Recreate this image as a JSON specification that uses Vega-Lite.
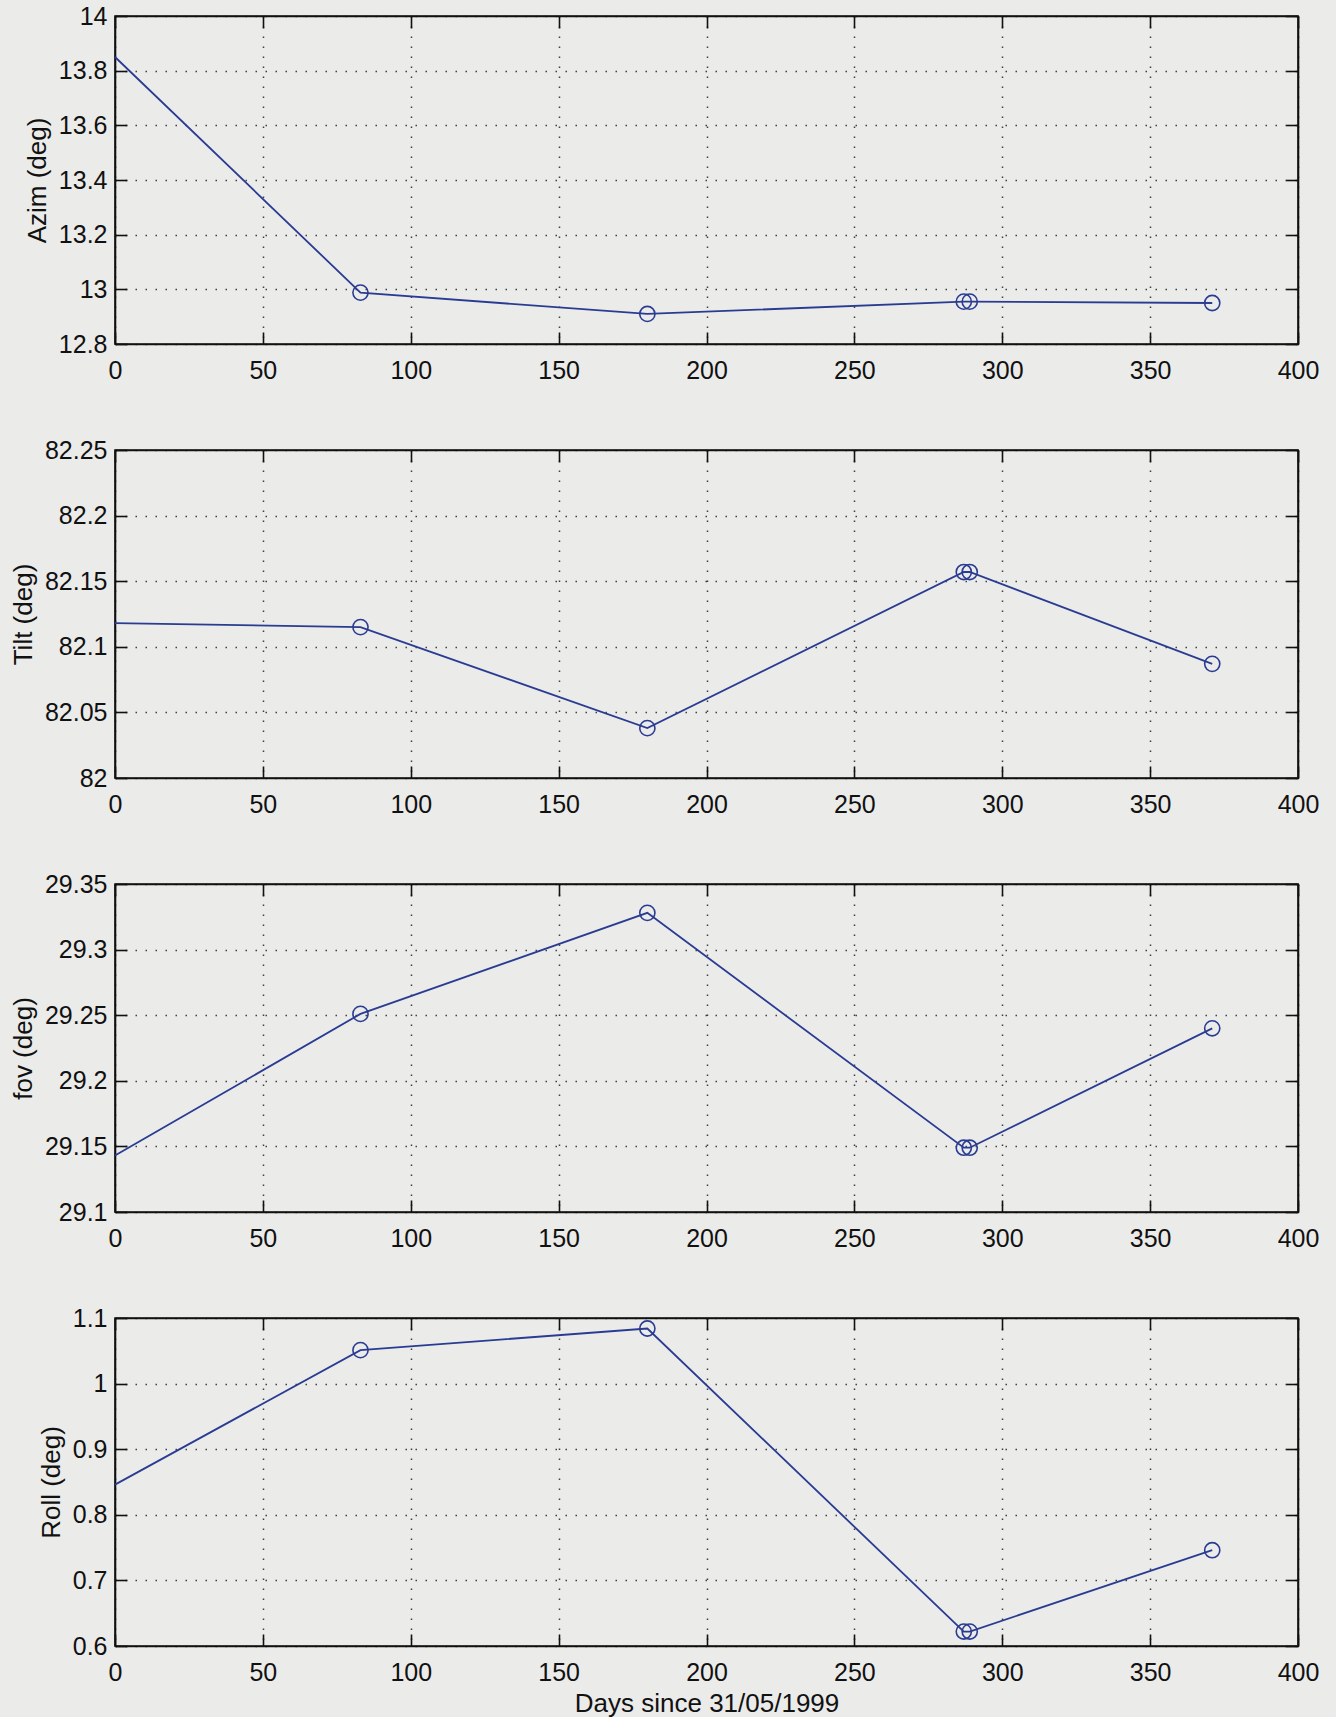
{
  "$schema": "https://vega.github.io/schema/vega-lite/v6.json",
  "background": "#ebebea",
  "padding": {"left": 9, "top": 3, "right": 30, "bottom": 0},
  "bounds": "flush",
  "spacing": 106,
  "datasets": {
    "cal": [
      {"day": 0, "azim": 13.85, "tilt": 82.118, "fov": 29.143, "roll": 0.846},
      {"day": 83, "azim": 12.988, "tilt": 82.115, "fov": 29.251, "roll": 1.051},
      {"day": 180, "azim": 12.91, "tilt": 82.038, "fov": 29.328, "roll": 1.084},
      {"day": 287, "azim": 12.955, "tilt": 82.157, "fov": 29.149, "roll": 0.622},
      {"day": 289, "azim": 12.955, "tilt": 82.157, "fov": 29.149, "roll": 0.622},
      {"day": 371, "azim": 12.95, "tilt": 82.087, "fov": 29.24, "roll": 0.746}
    ]
  },
  "data": {"name": "cal"},
  "vconcat": [
    {
      "width": 1183, "height": 328,
      "layer": [
        {
          "mark": {"type": "line", "color": "#2a3c92", "strokeWidth": 1.8},
          "encoding": {
            "x": {"field": "day", "type": "quantitative", "scale": {"domain": [0, 400], "nice": false},
              "axis": {"orient": "bottom", "title": null, "values": [0, 50, 100, 150, 200, 250, 300, 350, 400], "grid": true, "labelPadding": 26}},
            "y": {"field": "azim", "type": "quantitative", "scale": {"domain": [12.8, 14], "nice": false, "zero": false},
              "axis": {"orient": "left", "title": "Azim (deg)", "values": [12.8, 13, 13.2, 13.4, 13.6, 13.8, 14], "format": "~g", "grid": true, "labelPadding": 20}}
          }
        },
        {
          "transform": [{"filter": "datum.day > 0"}],
          "mark": {"type": "point", "shape": "circle", "filled": false, "size": 230, "strokeWidth": 1.6, "color": "#2a3c92", "opacity": 1},
          "encoding": {
            "x": {"field": "day", "type": "quantitative", "scale": {"domain": [0, 400], "nice": false},
              "axis": {"orient": "top", "title": null, "values": [0, 50, 100, 150, 200, 250, 300, 350, 400], "grid": false, "labels": false}},
            "y": {"field": "azim", "type": "quantitative", "scale": {"domain": [12.8, 14], "nice": false, "zero": false},
              "axis": {"orient": "right", "title": null, "values": [12.8, 13, 13.2, 13.4, 13.6, 13.8, 14], "grid": false, "labels": false}}
          }
        }
      ]
    },
    {
      "width": 1183, "height": 328,
      "layer": [
        {
          "mark": {"type": "line", "color": "#2a3c92", "strokeWidth": 1.8},
          "encoding": {
            "x": {"field": "day", "type": "quantitative", "scale": {"domain": [0, 400], "nice": false},
              "axis": {"orient": "bottom", "title": null, "values": [0, 50, 100, 150, 200, 250, 300, 350, 400], "grid": true, "labelPadding": 26}},
            "y": {"field": "tilt", "type": "quantitative", "scale": {"domain": [82, 82.25], "nice": false, "zero": false},
              "axis": {"orient": "left", "title": "Tilt (deg)", "values": [82, 82.05, 82.1, 82.15, 82.2, 82.25], "format": "~g", "grid": true, "labelPadding": 20}}
          }
        },
        {
          "transform": [{"filter": "datum.day > 0"}],
          "mark": {"type": "point", "shape": "circle", "filled": false, "size": 230, "strokeWidth": 1.6, "color": "#2a3c92", "opacity": 1},
          "encoding": {
            "x": {"field": "day", "type": "quantitative", "scale": {"domain": [0, 400], "nice": false},
              "axis": {"orient": "top", "title": null, "values": [0, 50, 100, 150, 200, 250, 300, 350, 400], "grid": false, "labels": false}},
            "y": {"field": "tilt", "type": "quantitative", "scale": {"domain": [82, 82.25], "nice": false, "zero": false},
              "axis": {"orient": "right", "title": null, "values": [82, 82.05, 82.1, 82.15, 82.2, 82.25], "grid": false, "labels": false}}
          }
        }
      ]
    },
    {
      "width": 1183, "height": 328,
      "layer": [
        {
          "mark": {"type": "line", "color": "#2a3c92", "strokeWidth": 1.8},
          "encoding": {
            "x": {"field": "day", "type": "quantitative", "scale": {"domain": [0, 400], "nice": false},
              "axis": {"orient": "bottom", "title": null, "values": [0, 50, 100, 150, 200, 250, 300, 350, 400], "grid": true, "labelPadding": 26}},
            "y": {"field": "fov", "type": "quantitative", "scale": {"domain": [29.1, 29.35], "nice": false, "zero": false},
              "axis": {"orient": "left", "title": "fov (deg)", "values": [29.1, 29.15, 29.2, 29.25, 29.3, 29.35], "format": "~g", "grid": true, "labelPadding": 20}}
          }
        },
        {
          "transform": [{"filter": "datum.day > 0"}],
          "mark": {"type": "point", "shape": "circle", "filled": false, "size": 230, "strokeWidth": 1.6, "color": "#2a3c92", "opacity": 1},
          "encoding": {
            "x": {"field": "day", "type": "quantitative", "scale": {"domain": [0, 400], "nice": false},
              "axis": {"orient": "top", "title": null, "values": [0, 50, 100, 150, 200, 250, 300, 350, 400], "grid": false, "labels": false}},
            "y": {"field": "fov", "type": "quantitative", "scale": {"domain": [29.1, 29.35], "nice": false, "zero": false},
              "axis": {"orient": "right", "title": null, "values": [29.1, 29.15, 29.2, 29.25, 29.3, 29.35], "grid": false, "labels": false}}
          }
        }
      ]
    },
    {
      "width": 1183, "height": 328,
      "layer": [
        {
          "mark": {"type": "line", "color": "#2a3c92", "strokeWidth": 1.8},
          "encoding": {
            "x": {"field": "day", "type": "quantitative", "scale": {"domain": [0, 400], "nice": false},
              "axis": {"orient": "bottom", "title": "Days since 31/05/1999", "values": [0, 50, 100, 150, 200, 250, 300, 350, 400], "grid": true, "labelPadding": 26, "titlePadding": 5}},
            "y": {"field": "roll", "type": "quantitative", "scale": {"domain": [0.6, 1.1], "nice": false, "zero": false},
              "axis": {"orient": "left", "title": "Roll (deg)", "values": [0.6, 0.7, 0.8, 0.9, 1, 1.1], "format": "~g", "grid": true, "labelPadding": 20}}
          }
        },
        {
          "transform": [{"filter": "datum.day > 0"}],
          "mark": {"type": "point", "shape": "circle", "filled": false, "size": 230, "strokeWidth": 1.6, "color": "#2a3c92", "opacity": 1},
          "encoding": {
            "x": {"field": "day", "type": "quantitative", "scale": {"domain": [0, 400], "nice": false},
              "axis": {"orient": "top", "title": null, "values": [0, 50, 100, 150, 200, 250, 300, 350, 400], "grid": false, "labels": false}},
            "y": {"field": "roll", "type": "quantitative", "scale": {"domain": [0.6, 1.1], "nice": false, "zero": false},
              "axis": {"orient": "right", "title": null, "values": [0.6, 0.7, 0.8, 0.9, 1, 1.1], "grid": false, "labels": false}}
          }
        }
      ]
    }
  ],
  "config": {
    "view": {"stroke": "#111111", "strokeWidth": 1.6},
    "axis": {
      "labelFont": "Liberation Sans",
      "labelFontSize": 25,
      "labelColor": "#111111",
      "titleFont": "Liberation Sans",
      "titleFontSize": 26,
      "titleFontWeight": "normal",
      "titleColor": "#111111",
      "titlePadding": 8,
      "domainColor": "#111111",
      "domainWidth": 1.6,
      "tickColor": "#111111",
      "tickWidth": 1.6,
      "tickSize": -12,
      "gridColor": "#222222",
      "gridDash": [1.5, 8.5],
      "gridWidth": 1.5,
      "gridOpacity": 0.85,
      "labelOverlap": false,
      "labelFlush": false
    }
  }
}
